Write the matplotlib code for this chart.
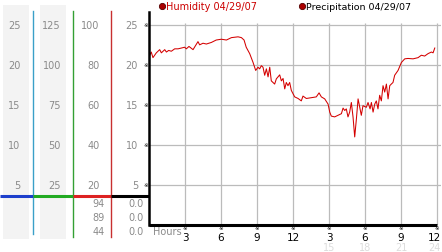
import matplotlib
matplotlib.use("Agg")
import matplotlib.pyplot as plt
import matplotlib.transforms as mtransforms

# ---- data ----
hours = [0.06, 0.19, 0.33, 0.61, 0.89, 1.03, 1.31, 1.45, 1.64, 1.86, 2.14, 2.42, 2.7, 2.97,
         3.11, 3.33, 3.67, 4.08, 4.22, 4.5, 4.78, 5.2, 5.6, 6.03, 6.45, 6.87, 7.42, 7.7,
         7.92, 8.1, 8.39, 8.67, 8.89,
         9.08, 9.22, 9.36, 9.5, 9.64, 9.78, 9.92, 10.06, 10.19, 10.33, 10.47, 10.61, 10.75,
         10.89, 11.03, 11.17, 11.31, 11.44, 11.58, 11.72, 11.86, 12.0, 12.14, 12.42, 12.69,
         12.83, 13.11, 13.53, 13.94, 14.17, 14.36, 14.64, 14.92, 15.06, 15.19, 15.47, 15.75,
         16.03, 16.17, 16.31, 16.44, 16.58, 16.72, 16.86, 17.0, 17.14, 17.28, 17.42, 17.56,
         17.69, 17.83, 18.11, 18.25, 18.42, 18.53, 18.67, 18.81, 18.94, 19.08, 19.22, 19.36,
         19.5, 19.64, 19.78, 19.92, 20.06, 20.19, 20.33, 20.47, 20.75, 21.03, 21.31, 21.58,
         22.0, 22.42, 22.69, 22.97, 23.25, 23.53, 23.67, 23.81]
humidity = [21.2, 21.6, 20.9, 21.5, 21.9, 21.5, 21.9, 21.6, 21.8, 21.7, 22.0, 22.0, 22.1, 22.2,
            22.0, 22.3, 21.9, 22.9, 22.5, 22.7, 22.6, 22.8, 23.1, 23.2, 23.1, 23.4, 23.5, 23.4,
            23.1, 22.2, 21.4, 20.3, 19.3,
            19.7, 19.5, 19.9, 19.7, 18.7, 19.5, 18.5, 19.7, 18.0, 17.8, 17.6, 18.25, 18.5,
            18.75, 18.0, 18.3, 17.0, 17.8, 17.4, 17.8, 16.8, 16.4, 16.0, 15.8, 15.5,
            16.1, 15.8, 15.9, 16.0, 16.5, 16.0, 15.75, 15.1, 14.1, 13.6, 13.5, 13.7,
            13.9, 14.6, 14.3, 14.5, 13.5, 14.1, 15.3, 13.5, 11.0, 13.25, 15.75, 14.7,
            13.7, 14.9, 14.7, 15.3, 14.5, 15.3, 14.1, 15.1, 15.5, 14.5, 16.2, 15.5,
            17.4, 16.6, 17.6, 15.75, 17.4, 17.6, 17.8, 18.7, 19.3, 20.3, 20.75, 20.8,
            20.75, 20.9, 21.2, 21.1, 21.4, 21.6, 21.5, 22.1]

y_ticks = [25, 20, 15, 10, 5]
col1_labels = ["25", "20", "15", "10", "5"]
col2_labels = ["125", "100", "75", "50", "25"]
col3_labels = ["100", "80", "60", "40", "20"]
col4_labels = ["25", "20", "15", "10", "5"]
col3_extra = ["94", "89", "44"]
col4_extra = ["0.0", "0.0", "0.0"]
x_ticks = [3, 6, 9, 12, 15, 18, 21, 24]
x_labels = ["3", "6", "9", "12", "3", "6", "9", "12"]
x_labels24 = ["15", "18", "21", "24"]
legend1 = "Humidity 04/29/07"
legend2 = "Precipitation 04/29/07"

W, H = 442, 253
fig = plt.figure(figsize=(W / 100, H / 100), dpi=100)
fig.patch.set_facecolor("white")

# background pixel-space axes
bg = fig.add_axes([0, 0, 1, 1])
bg.set_xlim(0, W)
bg.set_ylim(H, 0)
bg.axis("off")
bg.set_zorder(0)

ax = fig.add_axes([149 / W, (H - 226) / H, (441 - 149) / W, 213 / H])
ax.set_zorder(1)
ax.patch.set_alpha(0)
ax.set_xlim(0, 24.33)
ax.set_ylim(0, 26.6)
ax.set_xticks([])
ax.set_yticks([])
for s in ["top", "right", "bottom"]:
    ax.spines[s].set_visible(False)
ax.spines["left"].set_linewidth(1.8)
ax.spines["left"].set_color("black")

grid_c = "#bbbbbb"
ax.vlines(x_ticks, 0, 25.2, color=grid_c, lw=0.9, zorder=1)
ax.hlines(y_ticks, 0, 24.33, color=grid_c, lw=0.9, zorder=1)
ax.plot([0, 24], [0, 0], color="black", lw=2.2, clip_on=False, solid_capstyle="butt", zorder=3)
ax.plot(hours, humidity, color="#d40000", lw=0.75, zorder=2)

# left panel
gray = "#8a8a8a"
bg.add_patch(plt.Rectangle((2.5, 6), 26, 234, color="#f3f3f3", lw=0))
bg.add_patch(plt.Rectangle((40, 6), 26, 234, color="#f3f3f3", lw=0))
bg.plot([33.3, 33.3], [12, 235], color="#3aa0c8", lw=1.0)
bg.plot([72.7, 72.7], [12, 238], color="#33a033", lw=1.0)
bg.plot([111, 111], [12, 238], color="#c83030", lw=1.0)
bg.plot([0, 33.3], [196.7, 196.7], color="#1d3fcc", lw=2.2, solid_capstyle="butt")
bg.plot([33.3, 72.7], [196.7, 196.7], color="#22aa22", lw=2.2, solid_capstyle="butt")
bg.plot([72.7, 111], [196.7, 196.7], color="#dd2222", lw=2.2, solid_capstyle="butt")
bg.plot([111, 149], [196.7, 196.7], color="black", lw=2.2, solid_capstyle="butt")

tr = mtransforms.blended_transform_factory(bg.transData, ax.transData)
fs = 7
for v, a, b, c, d in zip(y_ticks, col1_labels, col2_labels, col3_labels, col4_labels):
    bg.text(20.5, v, a, transform=tr, ha="right", va="center", fontsize=fs, color=gray)
    bg.text(61, v, b, transform=tr, ha="right", va="center", fontsize=fs, color=gray)
    bg.text(99.5, v, c, transform=tr, ha="right", va="center", fontsize=fs, color=gray)
    bg.text(138, v, d, transform=tr, ha="right", va="center", fontsize=fs, color=gray)
    bg.text(145.7, v, "\u203b", transform=tr, ha="center", va="center", fontsize=4, color="black")

for yy, a, b in zip([204, 218, 232], col3_extra, col4_extra):
    bg.text(105, yy, a, ha="right", va="center", fontsize=fs, color=gray)
    bg.text(144, yy, b, ha="right", va="center", fontsize=fs, color=gray)

# x axis labels
trx = mtransforms.blended_transform_factory(ax.transData, bg.transData)
n = len(x_ticks)
for i, (xv, lab) in enumerate(zip(x_ticks, x_labels)):
    off = -0.25 if i == n - 1 else 0.0
    bg.text(xv, 229, "\u203b", transform=trx, ha="center", va="center", fontsize=4, color="black")
    bg.text(xv + off, 238.5, lab, transform=trx, ha="center", va="center", fontsize=7.5, color="black")
for i, (xv, lab) in enumerate(zip(x_ticks[4:], x_labels24)):
    off = -0.25 if i == len(x_labels24) - 1 else 0.0
    bg.text(xv + off, 248, lab, transform=trx, ha="center", va="center", fontsize=7, color="#dcdcdc")
bg.text(153, 232, "Hours", ha="left", va="center", fontsize=7, color=gray)

# legend
bg.plot([161.5], [6.8], "o", ms=4.5, color="#aa0000", mec="#550000", mew=0.6)
bg.text(166, 7, legend1, ha="left", va="center", fontsize=7, color="#cc0000")
bg.plot([302], [6.8], "o", ms=4.5, color="#aa0000", mec="#550000", mew=0.6)
bg.text(306, 7, legend2, ha="left", va="center", fontsize=6.8, color="black")

fig.savefig("out.png", dpi=100)
